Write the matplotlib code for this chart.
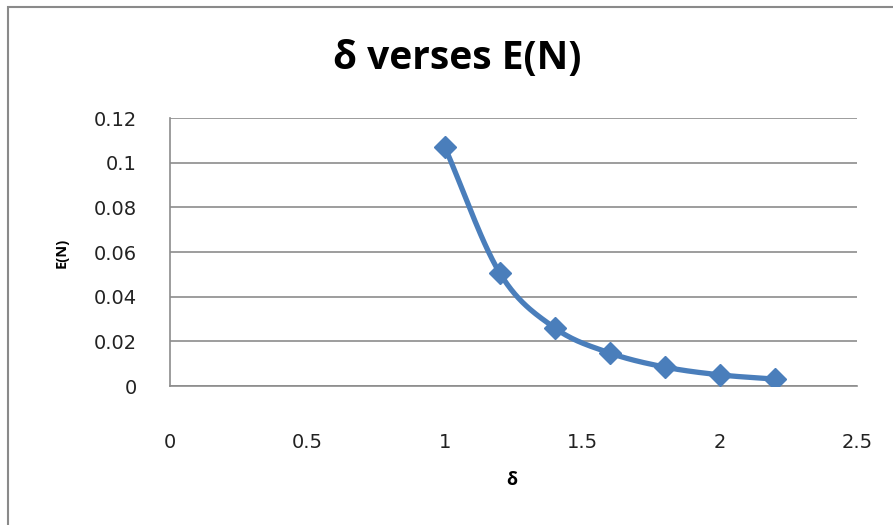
import numpy as np
import matplotlib.pyplot as plt
from matplotlib.patches import Rectangle

# data
delta = [1.0, 1.2, 1.4, 1.6, 1.8, 2.0, 2.2]
e_n = [0.107, 0.0506, 0.026, 0.0148, 0.0085, 0.0050, 0.0031]

x_ticks = [0, 0.5, 1, 1.5, 2, 2.5]
x_labels = ["0", "0.5", "1", "1.5", "2", "2.5"]
y_ticks = [0, 0.02, 0.04, 0.06, 0.08, 0.1, 0.12]
y_labels = ["0", "0.02", "0.04", "0.06", "0.08", "0.1", "0.12"]

BLUE = "#4a7ebb"
GRID = "#8c8c8c"


def smooth(xs, ys, n=30):
    # catmull-rom style curve through the points, like the spreadsheet "smoothed line"
    xs = np.asarray(xs, float)
    ys = np.asarray(ys, float)
    px = np.concatenate([[2 * xs[0] - xs[1]], xs, [2 * xs[-1] - xs[-2]]])
    py = np.concatenate([[2 * ys[0] - ys[1]], ys, [2 * ys[-1] - ys[-2]]])
    outx, outy = [], []
    t = np.linspace(0, 1, n)
    for i in range(1, len(px) - 2):
        p0, p1, p2, p3 = [np.array([px[j], py[j]]) for j in range(i - 1, i + 3)]
        c1 = p1 + (p2 - p0) / 6
        c2 = p2 - (p3 - p1) / 6
        for tt in t:
            b = ((1 - tt) ** 3 * p1 + 3 * (1 - tt) ** 2 * tt * c1
                 + 3 * (1 - tt) * tt ** 2 * c2 + tt ** 3 * p2)
            outx.append(b[0])
            outy.append(b[1])
    return outx, outy


plt.rcParams["font.family"] = ["Open Sans", "DejaVu Sans"]

fig = plt.figure(figsize=(8.93, 5.25), dpi=100)
ax = fig.add_axes([170 / 893, 1 - 386 / 525, 687 / 893, 268 / 525])

sx, sy = smooth(delta, e_n)
ax.plot(sx, sy, color=BLUE, linewidth=3.8, solid_capstyle="round", zorder=3)
ax.plot(delta, e_n, linestyle="none", marker="D", markersize=11,
        color=BLUE, zorder=4)

ax.set_xlim(0, 2.5)
ax.set_ylim(0, 0.12)
ax.set_xticks(x_ticks)
ax.set_xticklabels(x_labels)
ax.set_yticks(y_ticks)
ax.set_yticklabels(y_labels)
ax.tick_params(axis="both", length=0, labelsize=14, colors="#222222")
for lab in ax.get_xticklabels() + ax.get_yticklabels():
    lab.set_family("DejaVu Sans")
ax.tick_params(axis="x", pad=34)
ax.tick_params(axis="y", pad=24)

ax.yaxis.grid(True, color=GRID, linewidth=1.2)
ax.set_axisbelow(True)
for side in ["top", "right"]:
    ax.spines[side].set_visible(False)
ax.spines["left"].set_color(GRID)
ax.spines["bottom"].set_color(GRID)
ax.spines["left"].set_linewidth(1.2)
ax.spines["bottom"].set_linewidth(1.2)

fig.text(457 / 893, 1 - 58 / 525, "δ verses E(N)", ha="center", va="center",
         fontsize=28, fontweight="bold")
fig.text(62 / 893, 1 - 253 / 525, "E(N)", ha="center", va="center",
         rotation=90, fontsize=10.5, fontweight="bold")
fig.text(512 / 893, 1 - 480 / 525, "δ", ha="center", va="center",
         fontsize=13, fontweight="bold")

# outer chart frame, cut off at the right and bottom
fig.patches.append(Rectangle((8 / 893, -0.1), 1.2, 1.1 - 7 / 525,
                             transform=fig.transFigure, fill=False,
                             edgecolor="#8a8a8a", linewidth=1.5))

fig.savefig("out.png", dpi=100)
